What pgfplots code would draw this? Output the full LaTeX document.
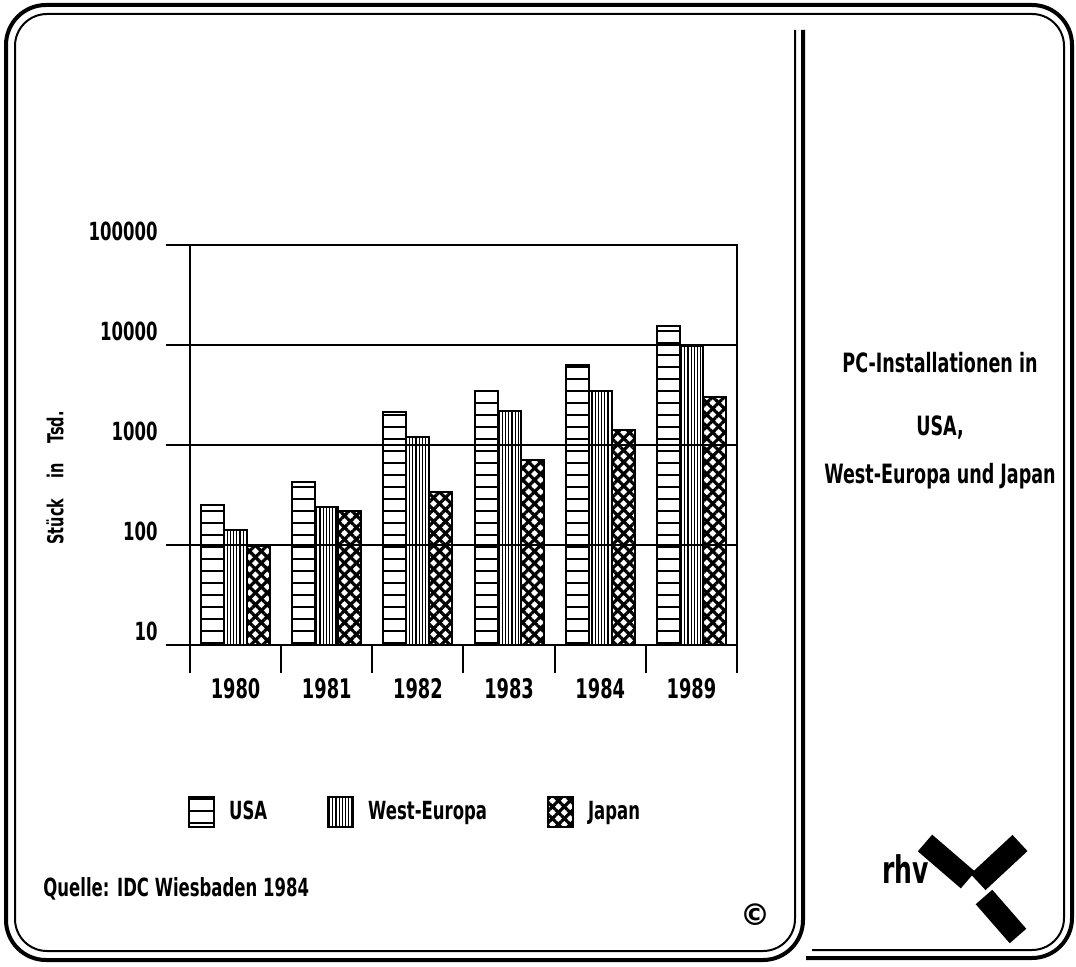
\documentclass[border=0pt]{standalone}
\usepackage{fontspec}
\setmainfont{DejaVu Sans}[FakeStretch=0.66]
\newfontfamily\plainfont{DejaVu Sans}
\usepackage{pgfplots}
\pgfplotsset{compat=1.18}
\usetikzlibrary{patterns.meta}
\pgfplotsset{
  mybar/.style={draw=black, line width=1pt,
    legend image code/.code={\draw[##1] (0pt,-7.5pt) rectangle (12.5pt,7.5pt);}},
}
\begin{document}
\bfseries
\begin{tikzpicture}[x=0.5pt,y=-0.5pt]
\path (0,0) rectangle (1076,967);
% frame
\draw[line width=2pt, rounded corners=20pt] (803,30) -- (803,960) -- (6,960) -- (6,5) -- (1072,5) -- (1072,958) -- (806,958);
\draw[line width=1pt, rounded corners=16pt] (795,30) -- (795,951) -- (15,951) -- (15,14) -- (1064,14) -- (1064,950) -- (812,950);
\begin{axis}[
  at={(95pt,-322.5pt)}, anchor=south west,
  scale only axis, width=273.5pt, height=200pt,
  ymode=log, ymin=10, ymax=100000, log origin=infty,
  xmin=-0.5, xmax=5.5,
  ybar=0pt, bar width=11.5pt,
  axis line style={line width=1pt},
  tick style={line width=1pt, black},
  tick align=outside, major tick length=12pt,
  xtick style={/pgfplots/major tick length=14pt},
  xtick pos=bottom, ytick pos=left,
  xtick={-0.5,0.5,1.5,2.5,3.5,4.5,5.5}, xticklabels={,,,,,,},
  extra x ticks={0,1,2,3,4,5},
  extra x tick labels={1980,1981,1982,1983,1984,1989},
  extra x tick style={xtick style={draw=none}},
  xticklabel style={font=\fontsize{13.5}{15}\selectfont\bfseries, inner sep=0pt, anchor=north, yshift=-4.5pt},
  ytick={10,100,1000,10000,100000},
  yticklabels={10,100,1000,10000,100000},
  yminorticks=false,
  yticklabel style={font=\fontsize{12.5}{14}\selectfont\bfseries, inner sep=0pt, anchor=south east, xshift=-4pt, yshift=2pt},
  ymajorgrids, major grid style={line width=0.9pt, black},
  ylabel={Stück\hspace{0.9em}in\hspace{0.9em}Tsd.},
  ylabel style={font=\fontsize{11}{13}\selectfont\bfseries, at={(axis description cs:-0.247,0.4175)}, anchor=center},
  legend columns=3,
  legend style={draw=none, fill=none, at={(axis description cs:-0.015,-0.4175)}, anchor=west,
    font=\fontsize{12.5}{15}\selectfont\bfseries,
    /tikz/every odd column/.append style={column sep=5pt},
    /tikz/every even column/.append style={column sep=28pt},
    /tikz/column 4/.append style={column sep=31pt}},
]
\addplot[mybar, pattern={Lines[angle=0,distance=6pt,line width=0.9pt]}]
  coordinates {(0,250) (1,430) (2,2150) (3,3450) (4,6300) (5,15500)};
\addplot[mybar, pattern={Lines[angle=90,distance=1.6pt,line width=0.6pt]}]
  coordinates {(0,140) (1,240) (2,1200) (3,2200) (4,3500) (5,9700)};
\addplot[mybar, pattern={Lines[angle=45,distance=4.2pt,line width=1.6pt]},
  postaction={pattern={Lines[angle=-45,distance=4.2pt,line width=1.6pt]}}]
  coordinates {(0,97) (1,220) (2,335) (3,700) (4,1400) (5,3000)};
\legend{USA,West-Europa,Japan}
\end{axis}
\node[anchor=west, inner sep=0pt, font=\fontsize{12.5}{14}\selectfont\bfseries] at (43,889) {Quelle: IDC Wiesbaden 1984};
\node[inner sep=0pt, font=\plainfont\fontsize{15}{16}\selectfont\bfseries] at (755,915) {\textcopyright};
\node[inner sep=0pt, font=\fontsize{13.3}{16}\selectfont\bfseries] at (940,363) {PC-Installationen in};
\node[inner sep=0pt, font=\fontsize{13.3}{16}\selectfont\bfseries] at (940,428) {USA,};
\node[inner sep=0pt, font=\fontsize{13.3}{16}\selectfont\bfseries] at (940,476) {West-Europa und Japan};
\node[anchor=base west, inner sep=0pt, font=\fontsize{19}{20}\selectfont\bfseries] at (882,883) {rhv};
\draw[line width=11pt] (925,843) -- (968,880);
\draw[line width=11pt] (1020,843) -- (978,882);
\draw[line width=11pt] (984,897) -- (1018,936);
\end{tikzpicture}
\end{document}
